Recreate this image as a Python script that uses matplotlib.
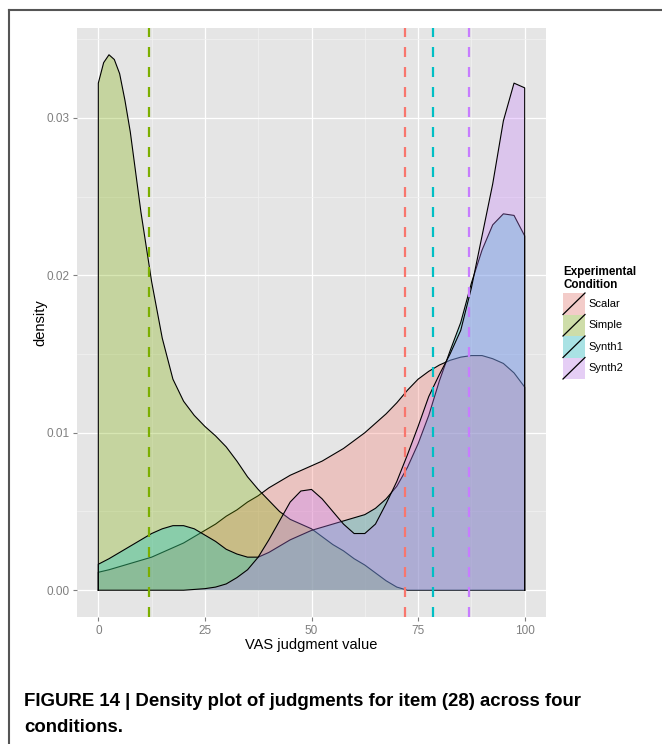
import numpy as np
import matplotlib
matplotlib.use("Agg")
import matplotlib.pyplot as plt
from matplotlib.lines import Line2D
from matplotlib.patches import Rectangle

# ---------------- data ----------------
conditions = ["Scalar", "Simple", "Synth1", "Synth2"]
colors = ["#F8766D", "#7CAE00", "#00BFC4", "#C77CFF"]

x_grid = [0, 2.5, 5, 7.5, 10, 12.5, 15, 17.5, 20, 22.5, 25, 27.5, 30, 32.5, 35,
          37.5, 40, 42.5, 45, 47.5, 50, 52.5, 55, 57.5, 60, 62.5, 65, 67.5, 70,
          72.5, 75, 77.5, 80, 82.5, 85, 87.5, 90, 92.5, 95, 97.5, 100]

x_simple = [0, 1.25, 2.5, 3.75, 5, 6.25, 7.5, 10, 12.5, 15, 17.5, 20, 22.5, 25,
            27.5, 30, 32.5, 35, 37.5, 40, 42.5, 45, 47.5, 50, 52.5, 55, 57.5,
            60, 62.5, 65, 67.5, 70, 72.5, 75, 80, 85, 90, 95, 100]

dens_scalar = [0.00114, 0.0013, 0.0015, 0.0017, 0.0019, 0.0021, 0.0024, 0.0027,
               0.0030, 0.0034, 0.0038, 0.0042, 0.0047, 0.0051, 0.0056, 0.0060,
               0.0065, 0.0069, 0.0073, 0.0076, 0.0079, 0.0082, 0.0086, 0.0090,
               0.0095, 0.0100, 0.0106, 0.0112, 0.0119, 0.0127, 0.0134, 0.0139,
               0.0143, 0.0146, 0.0148, 0.0149, 0.0149, 0.0147, 0.0144, 0.0138,
               0.0129]

dens_simple = [0.0322, 0.0335, 0.0340, 0.0337, 0.0328, 0.0311, 0.0291, 0.0240,
               0.0196, 0.0160, 0.0134, 0.0120, 0.0111, 0.0104, 0.0098, 0.0091,
               0.0082, 0.0072, 0.0064, 0.0057, 0.0050, 0.0045, 0.0042, 0.0039,
               0.0034, 0.0029, 0.0025, 0.0020, 0.0016, 0.0011, 0.0006, 0.0002,
               0.0, 0.0, 0.0, 0.0, 0.0, 0.0, 0.0]

dens_synth1 = [0.00165, 0.0020, 0.0024, 0.0028, 0.0032, 0.0036, 0.0039, 0.0041,
               0.0041, 0.0039, 0.0035, 0.0031, 0.0026, 0.0023, 0.0021, 0.0021,
               0.0024, 0.0028, 0.0032, 0.0035, 0.0038, 0.0040, 0.0042, 0.0044,
               0.0046, 0.0048, 0.0052, 0.0058, 0.0066, 0.0078, 0.0093, 0.0111,
               0.0133, 0.0152, 0.0170, 0.0195, 0.0216, 0.0232, 0.0239, 0.0238,
               0.0225]

dens_synth2 = [0.0, 0.0, 0.0, 0.0, 0.0, 0.0, 0.0, 0.0, 0.0, 0.00005, 0.0001,
               0.0002, 0.0004, 0.0008, 0.0013, 0.0021, 0.0032, 0.0044, 0.0056,
               0.0063, 0.0064, 0.0058, 0.0050, 0.0042, 0.0036, 0.0036, 0.0042,
               0.0055, 0.0069, 0.0086, 0.0104, 0.0123, 0.0137, 0.0150, 0.0165,
               0.0192, 0.0225, 0.0258, 0.0298, 0.0322, 0.0319]

means = [71.9, 11.9, 78.5, 86.9]

x_ticks = [0, 25, 50, 75, 100]
y_ticks = [0.00, 0.01, 0.02, 0.03]
y_tick_labels = ["0.00", "0.01", "0.02", "0.03"]

xlabel = "VAS judgment value"
ylabel = "density"
legend_title = ["Experimental", "Condition"]
caption_lines = ["FIGURE 14 | Density plot of judgments for item (28) across four",
                 "conditions."]

series_x = [x_grid, x_simple, x_grid, x_grid]
series_y = [dens_scalar, dens_simple, dens_synth1, dens_synth2]

# ---------------- figure ----------------
W, H = 662, 744
plt.rcParams['font.family'] = ['Liberation Sans', 'DejaVu Sans']
fig = plt.figure(figsize=(W / 100, H / 100), dpi=100)
fig.patch.set_facecolor("white")


def fx(px):
    return px / W


def fy(py):
    return 1 - py / H


pl, pr, pt, pb = 77, 546, 28, 617
ax = fig.add_axes([fx(pl), fy(pb), (pr - pl) / W, (pb - pt) / H])
ax.set_facecolor("#E5E5E5")
for s in ax.spines.values():
    s.set_visible(False)
ax.set_xlim(-5, 105)
ax.set_ylim(-0.0017, 0.0357)

ax.set_xticks(x_ticks)
ax.set_xticklabels([str(v) for v in x_ticks])
ax.set_yticks(y_ticks)
ax.set_yticklabels(y_tick_labels)
ax.set_xticks([12.5, 37.5, 62.5, 87.5], minor=True)
ax.set_yticks([0.005, 0.015, 0.025, 0.035], minor=True)
ax.tick_params(which="major", length=3, width=0.8, color="#7F7F7F",
               labelcolor="#7F7F7F", labelsize=8.5, pad=2.5)
ax.tick_params(which="minor", length=0)
ax.grid(which="major", color="white", lw=0.9)
ax.grid(which="minor", color="#F2F2F2", lw=0.5)
ax.set_axisbelow(True)

ax.set_xlabel(xlabel, fontsize=10.5, color="black")
ax.xaxis.set_label_coords(0.5, (pb - 645) / (pb - pt))
ax.xaxis.label.set_va("center")
ax.set_ylabel(ylabel, fontsize=10.5, color="black")
ax.yaxis.set_label_coords((40 - pl) / (pr - pl), 0.5)
ax.yaxis.label.set_va("center")
ax.yaxis.label.set_ha("center")

# densities (drawn in group order like ggplot)
for i, (xs, ys, c) in enumerate(zip(series_x, series_y, colors)):
    xs = np.asarray(xs, float)
    ys = np.asarray(ys, float)
    ax.fill_between(xs, ys, 0, facecolor=c, alpha=0.3, lw=0, zorder=3 + 2 * i)
    ax.plot(np.r_[xs[0], xs, xs[-1]], np.r_[0, ys, 0], color="black", lw=0.8,
            zorder=4 + 2 * i, solid_joinstyle="round")

for m, c in zip(means, colors):
    ax.axvline(m, color=c, lw=1.6, linestyle=(0, (4.5, 4.5)), zorder=20)

# ---------------- legend (manual) ----------------
fig.text(fx(563), fy(272), legend_title[0], fontsize=8.4, fontweight="bold",
         va="center", ha="left")
fig.text(fx(563), fy(285), legend_title[1], fontsize=8.4, fontweight="bold",
         va="center", ha="left")
key_top = 293
key_h = 21.5
key_w = 22
for i, (name, c) in enumerate(zip(conditions, colors)):
    y0 = key_top + i * key_h
    bg = Rectangle((fx(563), fy(y0 + key_h)), key_w / W, key_h / H,
                   transform=fig.transFigure, facecolor="#F2F2F2", lw=0)
    fg = Rectangle((fx(563), fy(y0 + key_h)), key_w / W, key_h / H,
                   transform=fig.transFigure, facecolor=c, alpha=0.3, lw=0)
    fig.add_artist(bg)
    fig.add_artist(fg)
    fig.add_artist(Line2D([fx(563), fx(563 + key_w)], [fy(y0 + key_h), fy(y0)],
                          transform=fig.transFigure, color="black", lw=0.9))
    fig.text(fx(588), fy(y0 + key_h / 2), name, fontsize=8, va="center",
             ha="left")

# ---------------- frame lines ----------------
fig.add_artist(Line2D([fx(9), fx(9)], [fy(10), 0], transform=fig.transFigure,
                      color="#555555", lw=1.5))
fig.add_artist(Line2D([fx(9), 1], [fy(10), fy(10)], transform=fig.transFigure,
                      color="#555555", lw=1.5))

# ---------------- caption ----------------
cap_family = ['Liberation Sans Narrow', 'Liberation Sans', 'DejaVu Sans']
t1 = fig.text(fx(24), fy(706), caption_lines[0], fontsize=13, fontweight="bold",
              family=cap_family, va="baseline", ha="left")
t2 = fig.text(fx(24), fy(732), caption_lines[1], fontsize=13, fontweight="bold",
              family=cap_family, va="baseline", ha="left")
fig.canvas.draw()
r = fig.canvas.get_renderer()
wpx = t1.get_window_extent(r).width
target = 583 - 24
fs = 13 * target / wpx
t1.set_fontsize(fs)
t2.set_fontsize(fs)

fig.savefig("out.png", dpi=100, facecolor="white")
